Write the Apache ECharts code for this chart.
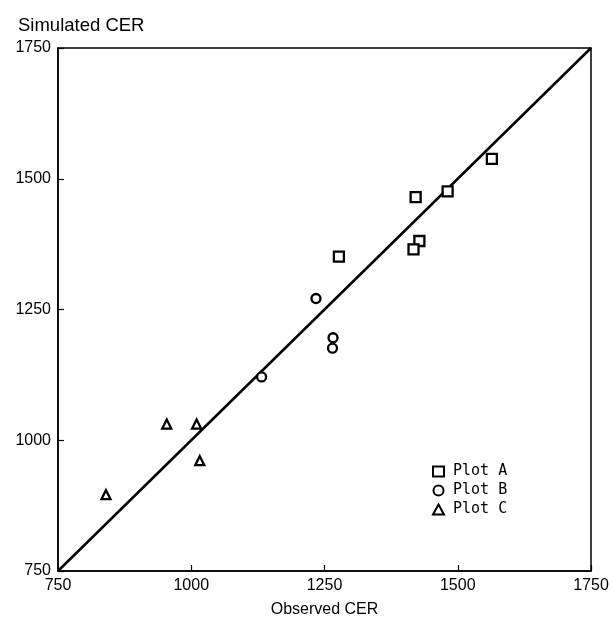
<!DOCTYPE html>
<html>
<head>
<meta charset="utf-8">
<script src="https://cdn.jsdelivr.net/npm/echarts@6/dist/echarts.min.js"></script>
<style>html,body{margin:0;padding:0;background:#fff}#c{width:614px;height:623px}</style>
</head>
<body>
<div id="c"></div>
<script>
const plotA = [[1564,1538],[1481,1476],[1421,1465],[1428,1381],[1417,1365],[1277,1351]];
const plotB = [[1234,1271],[1266,1196],[1265,1176],[1132,1121]];
const plotC = [[954,1031],[1010,1031],[1016,961],[840,896]];
const identityLine = [[750,750],[1750,1750]];
const axisMin = 750, axisMax = 1750, axisStep = 250;
const seriesNames = ['Plot A','Plot B','Plot C'];

const chart = echarts.init(document.getElementById('c'));
const markStyle = {color:'#fff', borderColor:'#000', borderWidth:2.3, opacity:1};
const axisCommon = {
  min: axisMin, max: axisMax, interval: axisStep,
  axisLine:{show:true, lineStyle:{color:'#000', width:1.5}},
  axisTick:{show:true, inside:true, length:6, lineStyle:{color:'#000', width:1.2}},
  splitLine:{show:false},
  axisLabel:{color:'#000', fontFamily:'Liberation Sans', fontSize:16, margin:7, formatter:v => String(v)}
};
chart.setOption({
  animation:false,
  backgroundColor:'#fff',
  title:{text:'Simulated CER', left:13, top:11,
    textStyle:{color:'#000', fontFamily:'Liberation Sans', fontSize:18.5, fontWeight:'normal'}},
  grid:{left:58, right:23, top:48, bottom:47, show:true, borderColor:'#000', borderWidth:1.5, backgroundColor:'transparent'},
  xAxis:Object.assign({}, axisCommon, {type:'value', name:'Observed CER', nameLocation:'middle', nameGap:31,
    nameTextStyle:{color:'#000', fontFamily:'Liberation Sans', fontSize:16}}),
  yAxis:Object.assign({}, axisCommon, {type:'value'}),
  legend:{data:seriesNames, orient:'vertical', left:427, top:459, itemWidth:11, itemHeight:10, itemGap:4, padding:[5,5,5,5],
    itemStyle:{opacity:1},
    textStyle:{color:'#000', fontFamily:'DejaVu Sans Mono', fontSize:15, padding:[0,0,0,4]}},
  series:[
    {type:'line', data:identityLine, symbol:'none', silent:true, lineStyle:{color:'#000', width:2.5}, z:1},
    {name:seriesNames[0], type:'scatter', data:plotA, symbol:'rect', symbolSize:10, itemStyle:markStyle, z:3},
    {name:seriesNames[1], type:'scatter', data:plotB, symbol:'circle', symbolSize:9, itemStyle:markStyle, z:3},
    {name:seriesNames[2], type:'scatter', data:plotC, symbol:'triangle', symbolSize:9, itemStyle:markStyle, z:3}
  ]
});
</script>
</body>
</html>
